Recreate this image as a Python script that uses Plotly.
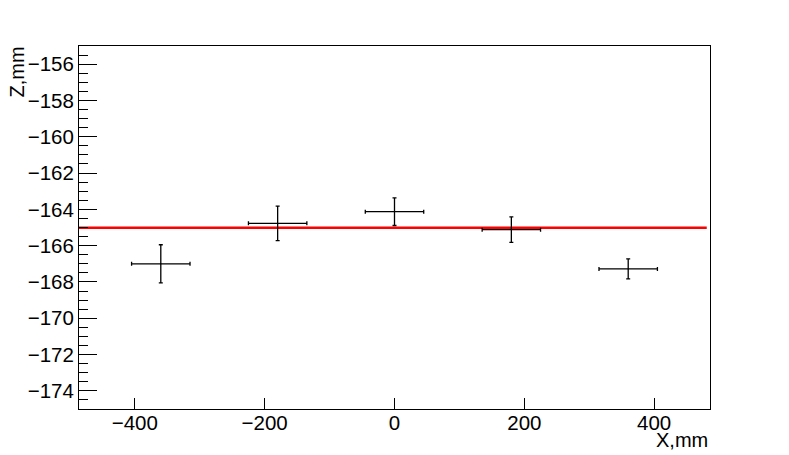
import plotly.graph_objects as go

# Data
x_pos = [-360, -180, 0, 180, 360]
z_val = [-167.0, -164.77, -164.13, -165.12, -167.28]
x_err = [45, 45, 45, 45, 45]
z_err = [1.05, 0.95, 0.76, 0.70, 0.55]

fit_x = [-486, 481]
fit_z = [-165.02, -165.02]

x_ticks = [-400, -200, 0, 200, 400]
y_ticks = [-174, -172, -170, -168, -166, -164, -162, -160, -158, -156]

fig = go.Figure()

fig.add_trace(go.Scatter(
    x=fit_x, y=fit_z, mode="lines",
    line=dict(color="#ff0000", width=2.5),
    showlegend=False, hoverinfo="skip"))

fig.add_trace(go.Scatter(
    x=x_pos, y=z_val, mode="markers",
    marker=dict(size=1, color="black"),
    error_x=dict(type="data", array=x_err, color="black", thickness=1.3, width=2),
    error_y=dict(type="data", array=z_err, color="black", thickness=1.3, width=2),
    showlegend=False))

font_family = "Liberation Sans, Arial, Helvetica, sans-serif"

# page has an 8px body margin, so margins are reduced accordingly
fig.update_layout(
    width=789, height=455,
    margin=dict(l=71, r=87, t=38, b=54),
    paper_bgcolor="white", plot_bgcolor="white",
    font=dict(family=font_family, size=20.5, color="black"),
    xaxis=dict(
        range=[-486, 486], tickvals=x_ticks, ticks="inside", ticklen=11,
        tickwidth=1, tickcolor="black", showgrid=False, zeroline=False,
        showline=True, linecolor="black", linewidth=1, mirror=True,
        tickfont=dict(size=20.5), ticklabelstandoff=-5),
    yaxis=dict(
        range=[-175, -155], tickvals=y_ticks, ticks="inside", ticklen=18,
        tickwidth=1, tickcolor="black", showgrid=False, zeroline=False,
        showline=True, linecolor="black", linewidth=1, mirror=True,
        tickfont=dict(size=20.5), ticklabelstandoff=0,
        minor=dict(dtick=0.5, tick0=-156, ticks="inside", ticklen=9,
                   tickcolor="black", tickwidth=1, showgrid=False)),
    annotations=[
        dict(text="X,mm", xref="paper", yref="paper", x=1, y=0,
             xanchor="right", yanchor="top", yshift=-18, showarrow=False,
             font=dict(size=20, family=font_family, color="black")),
        dict(text="Z,mm", xref="paper", yref="paper", x=0, y=1,
             xanchor="right", yanchor="top", xshift=-51, showarrow=False,
             textangle=-90, borderpad=0,
             font=dict(size=20, family=font_family, color="black")),
    ],
)

fig.write_html("out.html")
